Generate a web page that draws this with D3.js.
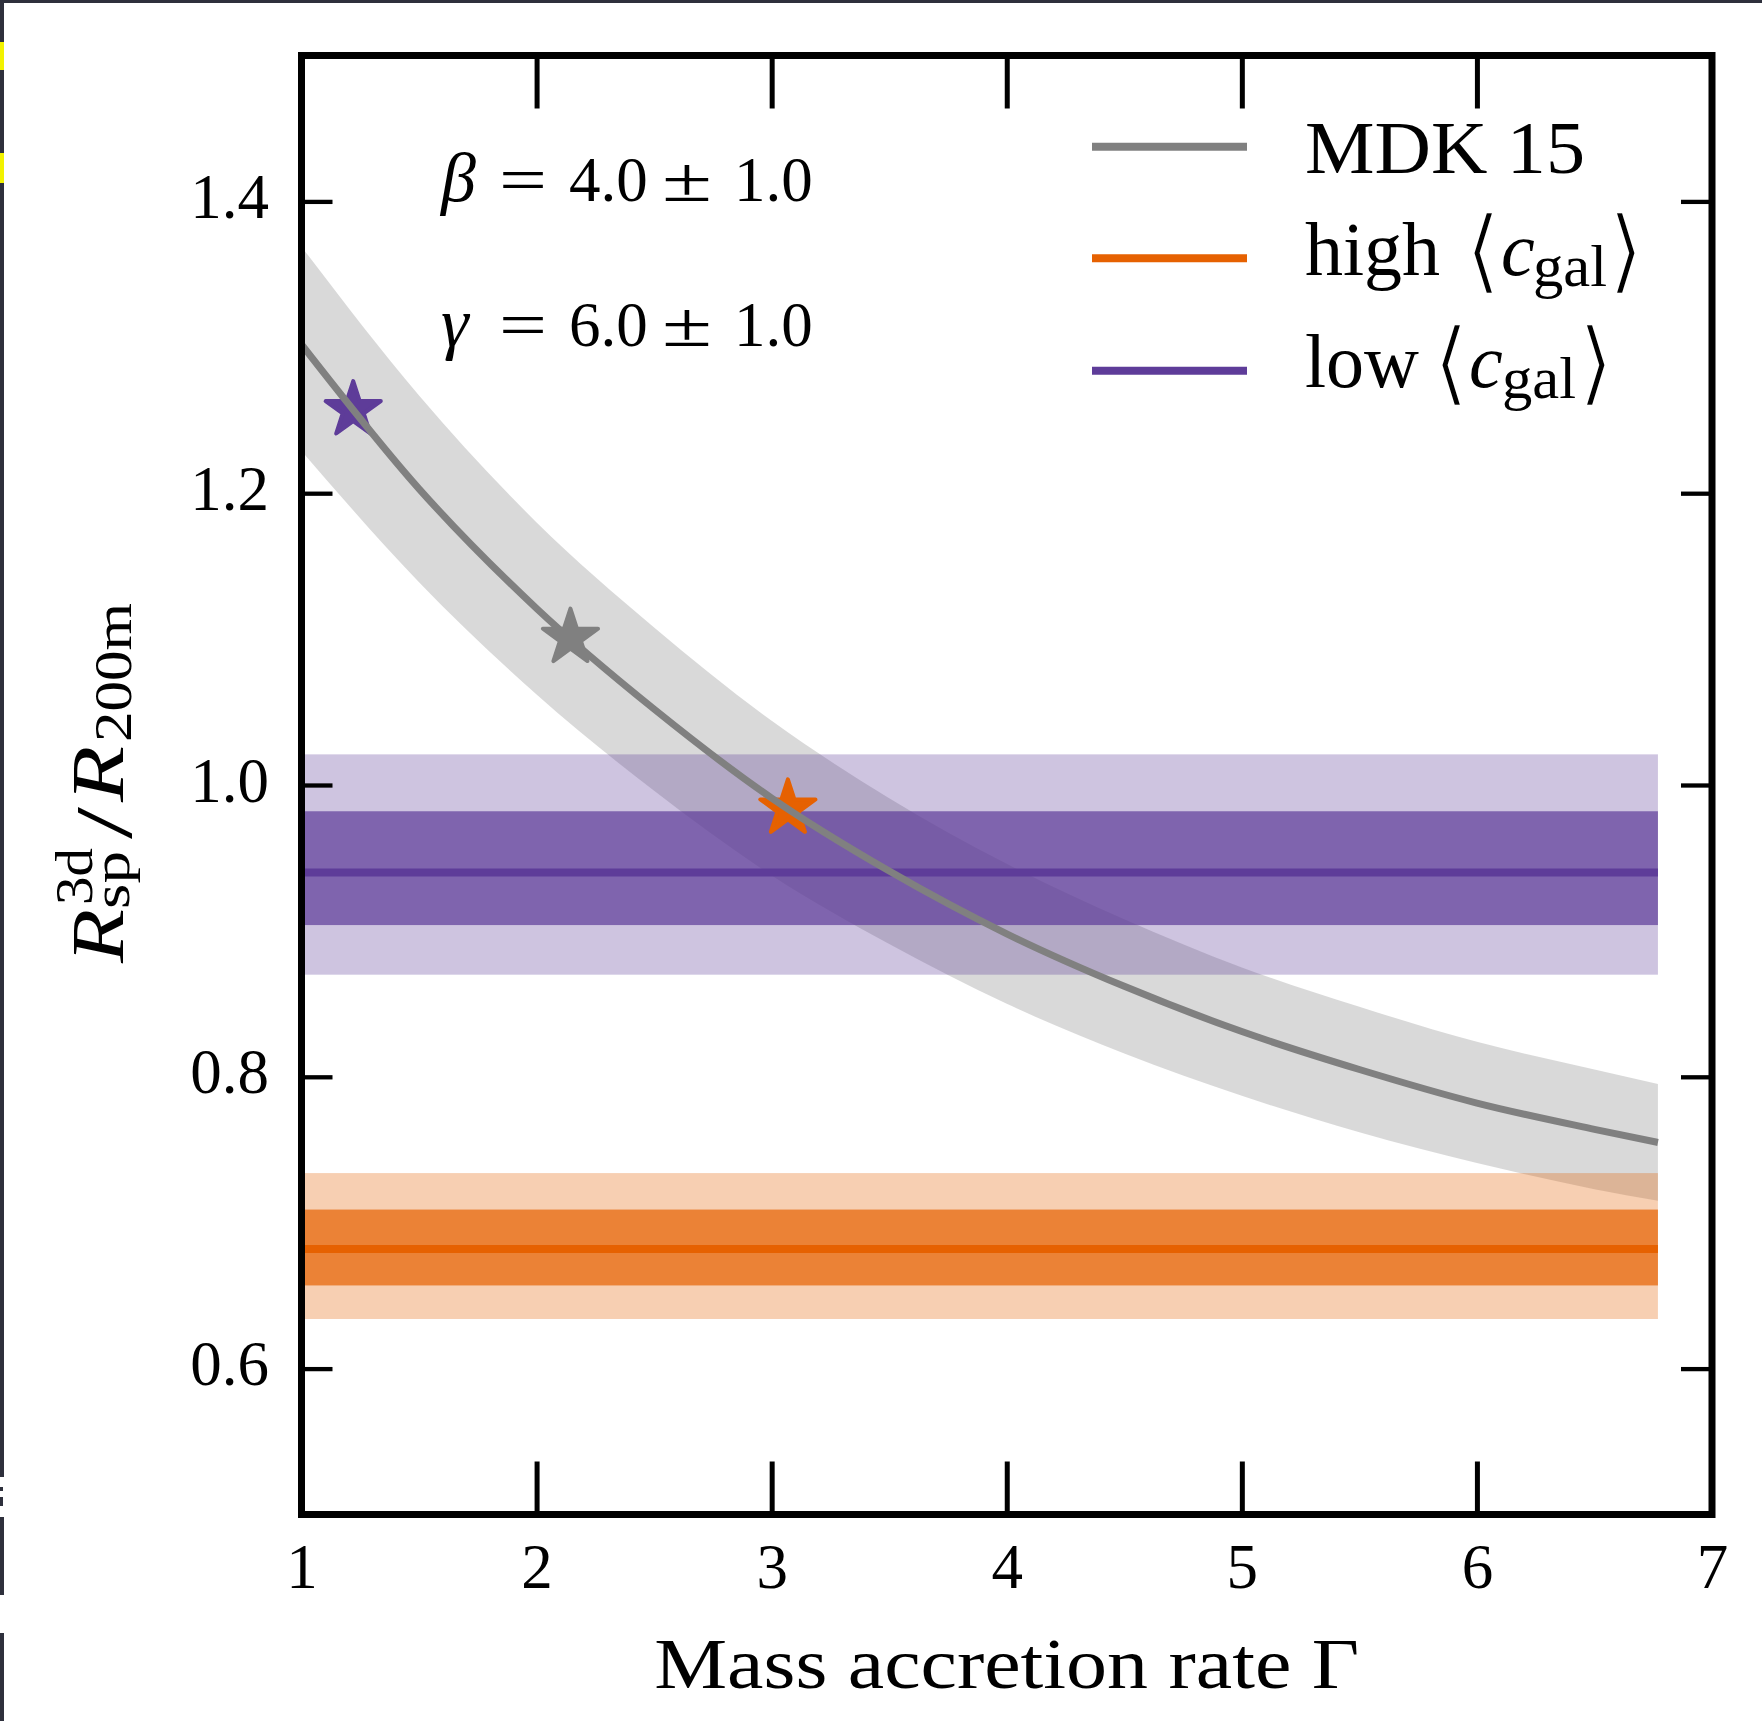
<!DOCTYPE html>
<html>
<head>
<meta charset="utf-8">
<script src="https://cdn.jsdelivr.net/npm/d3@7"></script>
<style>
  html, body { margin: 0; padding: 0; background: #fff; }
  svg { display: block; }
  text { font-family: "Liberation Serif", "DejaVu Serif", serif; fill: #000; }
</style>
</head>
<body>
<svg id="chart" width="1762" height="1721"></svg>
<script>
// MDK15 splashback relation sampled over the accretion-rate grid, with its band
const gammaGrid  = [1.0, 1.5, 2.0, 2.5, 3.0, 3.5, 4.0, 4.5, 5.0, 5.5, 6.0, 6.5, 6.77];
const mdkCentral = [1.302, 1.203, 1.121, 1.052, 0.991, 0.941, 0.898, 0.862, 0.831, 0.805, 0.782, 0.764, 0.755];
const mdkUpper   = [1.369, 1.267, 1.180, 1.108, 1.044, 0.991, 0.946, 0.908, 0.875, 0.848, 0.824, 0.805, 0.795];
const mdkLower   = [1.229, 1.139, 1.062, 0.996, 0.938, 0.891, 0.850, 0.816, 0.787, 0.762, 0.741, 0.723, 0.715];

// Measured splashback radius of the two galaxy-concentration samples
const sampleKeys      = ["low", "high"];
const sampleCentral   = [0.940, 0.682];
const sampleInnerLo   = [0.904, 0.657];
const sampleInnerHi   = [0.982, 0.709];
const sampleOuterLo   = [0.870, 0.634];
const sampleOuterHi   = [1.021, 0.734];
const sampleGammaSpan = [1.0, 6.77];

// Star markers placed on the MDK15 curve
const starKeys  = ["low", "mdk", "high"];
const starGamma = [1.220, 2.144, 3.069];
const starValue = [1.257, 1.101, 0.984];

// Axes
const xDomain = [1, 7];
const yDomain = [0.5, 1.5];
const xTicks  = [1, 2, 3, 4, 5, 6, 7];
const yTicks  = [0.6, 0.8, 1.0, 1.2, 1.4];

// Legend entries
const legendKeys = ["mdk", "high", "low"];
const legendMain = ["MDK 15", "high", "low"];

const colors = { mdk: "#808080", high: "#e66101", low: "#5e3c99" };

const svg = d3.select("#chart");

// window chrome along the top and left edges
const chrome = svg.append("g");
chrome.append("rect").attr("x", 0).attr("y", 0).attr("width", 1762).attr("height", 3).attr("fill", "#2e303c");
[[0, 1477], [1517, 1595], [1633, 1721]].forEach(([a, b]) => {
  chrome.append("rect").attr("x", 0).attr("y", a).attr("width", 4).attr("height", b - a).attr("fill", "#2e303c");
});
chrome.append("rect").attr("x", 0).attr("y", 1487).attr("width", 3).attr("height", 4).attr("fill", "#2e303c");
chrome.append("rect").attr("x", 0).attr("y", 1497).attr("width", 3).attr("height", 9).attr("fill", "#2e303c");
chrome.append("rect").attr("x", 0).attr("y", 42).attr("width", 4).attr("height", 28).attr("fill", "#f2f200");
chrome.append("rect").attr("x", 0).attr("y", 153).attr("width", 4).attr("height", 30).attr("fill", "#f2f200");

const pL = 301.5, pR = 1712, pT = 55.5, pB = 1514.5;
const x = d3.scaleLinear().domain(xDomain).range([pL, pR]);
const y = d3.scaleLinear().domain(yDomain).range([pB, pT]);

const plot = svg.append("g");
const clip = svg.append("clipPath").attr("id", "plotclip");
clip.append("rect").attr("x", pL).attr("y", pT).attr("width", pR - pL).attr("height", pB - pT);
const inner = plot.append("g").attr("clip-path", "url(#plotclip)");

// MDK15 band
const bandData = gammaGrid.map((g, i) => ({ g, lo: mdkLower[i], hi: mdkUpper[i], c: mdkCentral[i] }));
inner.append("path")
  .datum(bandData)
  .attr("d", d3.area().x(d => x(d.g)).y0(d => y(d.lo)).y1(d => y(d.hi)).curve(d3.curveMonotoneX))
  .attr("fill", colors.mdk).attr("fill-opacity", 0.3);

// sample bands: outer then inner
sampleKeys.forEach((k, i) => {
  const x0 = x(sampleGammaSpan[0]), x1 = x(sampleGammaSpan[1]);
  inner.append("rect")
    .attr("x", x0).attr("width", x1 - x0)
    .attr("y", y(sampleOuterHi[i])).attr("height", y(sampleOuterLo[i]) - y(sampleOuterHi[i]))
    .attr("fill", colors[k]).attr("fill-opacity", 0.3);
  inner.append("rect")
    .attr("x", x0).attr("width", x1 - x0)
    .attr("y", y(sampleInnerHi[i])).attr("height", y(sampleInnerLo[i]) - y(sampleInnerHi[i]))
    .attr("fill", colors[k]).attr("fill-opacity", 0.7);
});
sampleKeys.forEach((k, i) => {
  inner.append("line")
    .attr("x1", x(sampleGammaSpan[0])).attr("x2", x(sampleGammaSpan[1]))
    .attr("y1", y(sampleCentral[i])).attr("y2", y(sampleCentral[i]))
    .attr("stroke", colors[k]).attr("stroke-width", 8);
});

// star markers
const star = d3.symbol().type(d3.symbolStar).size(944);
starKeys.forEach((k, i) => {
  inner.append("path")
    .attr("d", star())
    .attr("transform", `translate(${x(starGamma[i])},${y(starValue[i])})`)
    .attr("fill", colors[k]).attr("stroke", colors[k])
    .attr("stroke-width", 4).attr("stroke-linejoin", "round");
});

// MDK15 central curve
inner.append("path")
  .datum(bandData)
  .attr("d", d3.line().x(d => x(d.g)).y(d => y(d.c)).curve(d3.curveMonotoneX))
  .attr("fill", "none").attr("stroke", colors.mdk).attr("stroke-width", 7);

// axes: inward ticks on all four sides
const fs = 63;
const axB = plot.append("g").attr("transform", `translate(0,${pB})`)
  .call(d3.axisBottom(x).tickValues(xTicks).tickSize(-53).tickFormat(d3.format("d")));
const axT = plot.append("g").attr("transform", `translate(0,${pT})`)
  .call(d3.axisTop(x).tickValues(xTicks).tickSize(-53).tickFormat(""));
const axL = plot.append("g").attr("transform", `translate(${pL},0)`)
  .call(d3.axisLeft(y).tickValues(yTicks).tickSize(-31).tickFormat(d3.format(".1f")));
const axR = plot.append("g").attr("transform", `translate(${pR},0)`)
  .call(d3.axisRight(y).tickValues(yTicks).tickSize(-31).tickFormat(""));

[axB, axT, axL, axR].forEach(a => {
  a.select(".domain").remove();
  a.selectAll(".tick line").attr("stroke", "#000");
});
[axB, axT].forEach(a => a.selectAll(".tick line").attr("stroke-width", 5));
[axL, axR].forEach(a => a.selectAll(".tick line").attr("stroke-width", 4.3));

axB.selectAll(".tick text")
  .attr("font-family", "Liberation Serif").attr("font-size", fs)
  .attr("y", 1588 - pB).attr("dy", 0);
axL.selectAll(".tick text")
  .attr("font-family", "Liberation Serif").attr("font-size", fs)
  .attr("x", 269 - pL).attr("dy", 16);

// frame
plot.append("rect")
  .attr("x", pL).attr("y", pT).attr("width", pR - pL).attr("height", pB - pT)
  .attr("fill", "none").attr("stroke", "#000").attr("stroke-width", 7);

// helper: place one text piece
function piece(g, t, px, py, size, opts = {}) {
  const el = g.append("text").attr("x", px).attr("y", py).attr("font-size", size).text(t);
  if (opts.italic) el.attr("font-style", "italic");
  if (opts.len) el.attr("textLength", opts.len).attr("lengthAdjust", "spacingAndGlyphs");
  if (opts.anchor) el.attr("text-anchor", opts.anchor);
  return el;
}

// helper: one text line made of tspans at fixed positions
function mathLine(g, base, parts) {
  const el = g.append("text").attr("y", base);
  parts.forEach(p => {
    const s = el.append("tspan")
      .attr("x", p.x).attr("y", base + (p.dy || 0))
      .attr("font-size", p.size).text(p.t);
    if (p.italic) s.attr("font-style", "italic");
    if (p.family) s.attr("font-family", p.family);
    if (p.thin) s.attr("stroke", "#fff").attr("stroke-width", p.thin);
    if (p.len) s.attr("textLength", p.len).attr("lengthAdjust", "spacingAndGlyphs");
  });
  return el;
}

// parameter annotations
const ann = svg.append("g");
[["β", "4.0", 201], ["γ", "6.0", 346]].forEach(([sym, val, base]) => {
  piece(ann, sym, 441, base, 70, { italic: true });
  piece(ann, "=", 499, base, 64, { len: 48 });
  piece(ann, val, 569, base, 63);
  piece(ann, "±", 662, base, 64, { len: 50 });
  piece(ann, "1.0", 734, base, 63);
});

// legend
const leg = svg.append("g");
const legY = [146.7, 258.3, 370.7];
legendKeys.forEach((k, i) => {
  leg.append("line").attr("x1", 1092).attr("x2", 1247).attr("y1", legY[i]).attr("y2", legY[i])
    .attr("stroke", colors[k]).attr("stroke-width", 8);
});
piece(leg, legendMain[0], 1305, 173, 75, { len: 280 });
const bf = "DejaVu Serif";
[[legendMain[1], 275, 1465, 1501, 1533, 1608], [legendMain[2], 387, 1433, 1469, 1502, 1578]]
  .forEach(([word, base, bx, cx, sx, ex]) => {
    mathLine(leg, base, [
      { t: word, x: 1305, size: 76 },
      { t: "⟨", x: bx, dy: 7, size: 92, family: bf, thin: 2.4 },
      { t: "c", x: cx, size: 76, italic: true },
      { t: "gal", x: sx, dy: 11, size: 60, len: 74 },
      { t: "⟩", x: ex, dy: 7, size: 92, family: bf, thin: 2.4 }
    ]);
  });

// axis titles
piece(svg, "Mass accretion rate Γ", (pL + pR) / 2, 1688, 72, { anchor: "middle", len: 705 });

const yl = svg.append("g").attr("transform", "translate(123,963) rotate(-90)");
piece(yl, "R", 0, 0, 74, { italic: true, len: 54 });
piece(yl, "3d", 58, -31, 52, { len: 57 });
piece(yl, "sp", 54, 6, 52, { len: 58 });
piece(yl, "/", 124, 8, 80, { len: 32 });
piece(yl, "R", 161, 0, 74, { italic: true, len: 56 });
piece(yl, "200m", 221, 8, 52, { len: 139 });
</script>
</body>
</html>
